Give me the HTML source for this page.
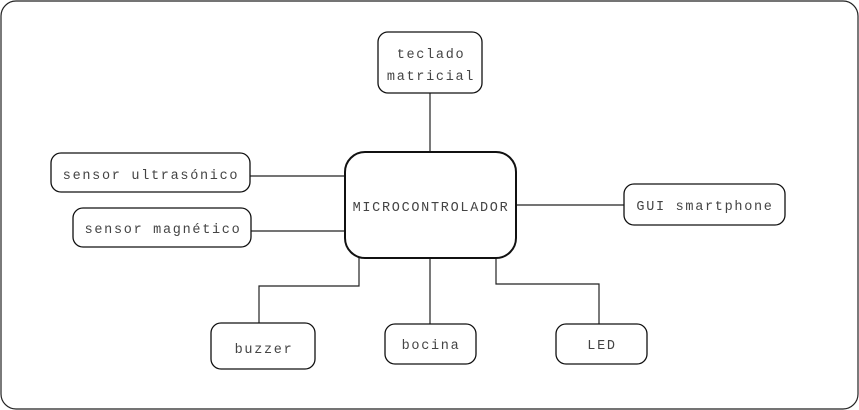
<!DOCTYPE html>
<html><head><meta charset="utf-8"><style>
html,body{margin:0;padding:0;background:#fff;}
svg{display:block;}
text{font-family:"Liberation Mono","DejaVu Sans Mono","Courier New",monospace;font-size:13.5px;fill:#444;text-anchor:middle;letter-spacing:1.7px;}
</style></head><body>
<svg width="859" height="410" viewBox="0 0 859 410" xmlns="http://www.w3.org/2000/svg">
<rect x="1" y="1" width="857" height="408" rx="15" fill="#fff" stroke="#222" stroke-width="1.2"/>
<g stroke="#222" stroke-width="1.2" fill="none">
<line x1="430" y1="93" x2="430" y2="152"/>
<line x1="250" y1="176" x2="345" y2="176"/>
<line x1="251" y1="231" x2="345" y2="231"/>
<line x1="516" y1="205" x2="624" y2="205"/>
<polyline points="359,258 359,286 259,286 259,323"/>
<line x1="430" y1="258" x2="430" y2="324"/>
<polyline points="496,258 496,284 599,284 599,324"/>
</g>
<g fill="#fff" stroke="#111" stroke-width="1.3">
<rect x="345" y="152" width="171" height="106" rx="20" stroke-width="2"/>
<rect x="378" y="32" width="104" height="61" rx="10"/>
<rect x="51" y="153" width="199" height="39" rx="10"/>
<rect x="73" y="208" width="178" height="39" rx="10"/>
<rect x="624" y="184" width="161" height="41" rx="10"/>
<rect x="211" y="323" width="104" height="46" rx="10"/>
<rect x="385" y="324" width="91" height="40" rx="10"/>
<rect x="556" y="324" width="91" height="40" rx="10"/>
</g>
<text x="431" y="211">MICROCONTROLADOR</text>
<text x="431" y="58">teclado</text>
<text x="431" y="80">matricial</text>
<text x="151" y="179">sensor ultrasónico</text>
<text x="163" y="233">sensor magnético</text>
<text x="705" y="210">GUI smartphone</text>
<text x="264" y="353">buzzer</text>
<text x="431" y="349">bocina</text>
<text x="602" y="349">LED</text>
</svg>
</body></html>
